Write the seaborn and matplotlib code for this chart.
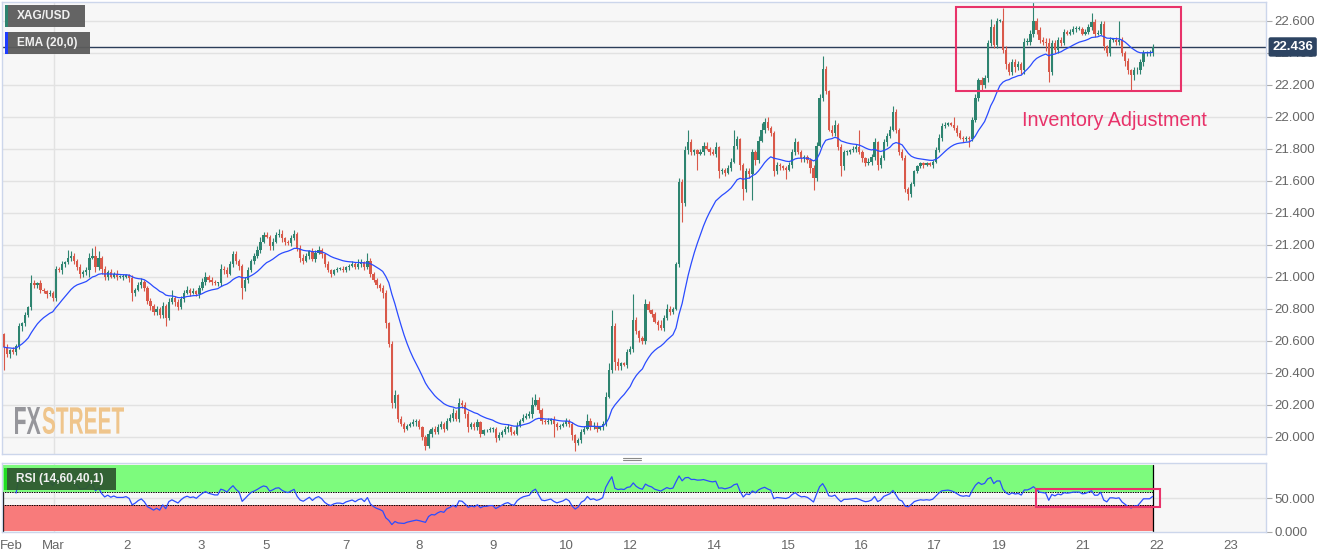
import numpy as np
import pandas as pd
import matplotlib
matplotlib.use("Agg")
import matplotlib.pyplot as plt
import seaborn as sns
from matplotlib.patches import Rectangle, PathPatch
from matplotlib.lines import Line2D
from matplotlib.textpath import TextPath
from matplotlib.font_manager import FontProperties
from matplotlib.transforms import Affine2D

# XAG/USD hourly closes
close = [
    20.56, 20.52, 20.54, 20.53, 20.57, 20.69, 20.71, 20.76, 20.81, 20.96, 20.95, 20.96, 20.92, 20.91, 20.89, 20.90, 20.87, 21.05, 21.04, 21.08,
    21.09, 21.12, 21.13, 21.10, 21.06, 21.02, 21.03, 21.04, 21.12, 21.13, 21.06, 21.12, 21.05, 21.00, 21.03, 21.00, 21.02, 21.00, 21.00, 21.00,
    21.01, 20.99, 20.90, 20.92, 20.95, 20.97, 20.93, 20.85, 20.82, 20.78, 20.80, 20.76, 20.82, 20.74, 20.84, 20.87, 20.84, 20.81, 20.86, 20.90,
    20.92, 20.90, 20.91, 20.89, 20.93, 20.97, 21.00, 20.98, 20.97, 20.96, 20.96, 21.05, 21.04, 21.02, 21.08, 21.14, 21.10, 21.07, 20.93, 20.98,
    21.04, 21.10, 21.13, 21.17, 21.22, 21.26, 21.25, 21.19, 21.22, 21.26, 21.27, 21.24, 21.22, 21.21, 21.24, 21.27, 21.18, 21.12, 21.10, 21.13,
    21.16, 21.11, 21.15, 21.17, 21.14, 21.08, 21.04, 21.02, 21.04, 21.05, 21.05, 21.04, 21.06, 21.07, 21.08, 21.06, 21.08, 21.09, 21.06, 21.10,
    21.02, 20.98, 20.95, 20.93, 20.90, 20.71, 20.58, 20.21, 20.26, 20.11, 20.08, 20.05, 20.07, 20.08, 20.09, 20.10, 20.06, 20.00, 19.94, 20.02,
    20.05, 20.03, 20.06, 20.08, 20.05, 20.10, 20.12, 20.15, 20.11, 20.21, 20.20, 20.14, 20.06, 20.08, 20.06, 20.09, 20.02, 20.04, 20.04, 20.05,
    20.05, 19.99, 20.01, 20.03, 20.05, 20.06, 20.03, 20.02, 20.07, 20.10, 20.12, 20.13, 20.14, 20.20, 20.23, 20.17, 20.10, 20.09, 20.10, 20.11,
    20.08, 20.06, 20.07, 20.08, 20.10, 20.08, 20.01, 19.96, 19.98, 20.03, 20.05, 20.10, 20.06, 20.07, 20.05, 20.06, 20.08, 20.25, 20.42, 20.69,
    20.47, 20.44, 20.46, 20.45, 20.53, 20.55, 20.73, 20.66, 20.62, 20.60, 20.83, 20.79, 20.77, 20.72, 20.70, 20.68, 20.74, 20.80, 20.78, 20.80,
    21.08, 21.59, 21.46, 21.79, 21.84, 21.78, 21.79, 21.77, 21.78, 21.82, 21.80, 21.78, 21.77, 21.81, 21.66, 21.67, 21.65, 21.68, 21.72, 21.82,
    21.86, 21.70, 21.55, 21.66, 21.64, 21.78, 21.73, 21.85, 21.92, 21.97, 21.93, 21.90, 21.66, 21.70, 21.69, 21.68, 21.67, 21.70, 21.78, 21.84,
    21.78, 21.74, 21.75, 21.73, 21.68, 21.62, 21.82, 22.12, 22.30, 22.16, 21.92, 21.90, 21.95, 21.81, 21.69, 21.78, 21.78, 21.79, 21.80, 21.81,
    21.78, 21.74, 21.71, 21.72, 21.75, 21.84, 21.70, 21.74, 21.84, 21.88, 21.92, 22.03, 21.92, 21.78, 21.74, 21.55, 21.52, 21.58, 21.66, 21.69,
    21.71, 21.70, 21.71, 21.70, 21.72, 21.79, 21.87, 21.94, 21.95, 21.96, 21.95, 21.93, 21.90, 21.87, 21.86, 21.87, 21.86, 21.98, 22.12, 22.23,
    22.20, 22.24, 22.46, 22.56, 22.45, 22.60, 22.60, 22.42, 22.33, 22.28, 22.34, 22.31, 22.33, 22.29, 22.47, 22.47, 22.52, 22.60, 22.54, 22.48,
    22.47, 22.46, 22.28, 22.46, 22.42, 22.48, 22.46, 22.53, 22.52, 22.53, 22.55, 22.55, 22.55, 22.52, 22.53, 22.56, 22.59, 22.52, 22.52, 22.58,
    22.44, 22.40, 22.48, 22.48, 22.47, 22.48, 22.40, 22.35, 22.29, 22.26, 22.29, 22.29, 22.34, 22.40, 22.40, 22.40, 22.436,
]
first_open = 20.64

# wick lengths above / below the body, in cents
upper_wick = [
    1, 2, 1, 2, 1, 2, 1, 2, 1, 5, 2, 1, 2, 1, 1, 2, 1, 2, 1, 2,
    1, 5, 3, 2, 1, 2, 1, 2, 3, 5, 6, 4, 1, 2, 1, 2, 1, 2, 1, 2,
    1, 1, 2, 1, 2, 2, 1, 1, 2, 1, 2, 1, 2, 1, 3, 5, 1, 2, 2, 2,
    2, 1, 2, 1, 2, 2, 3, 1, 2, 1, 1, 3, 2, 2, 2, 2, 2, 1, 1, 2,
    2, 1, 2, 2, 3, 2, 2, 1, 2, 2, 3, 2, 1, 1, 2, 2, 1, 2, 2, 2,
    1, 2, 2, 2, 1, 1, 2, 1, 1, 1, 1, 2, 1, 1, 2, 1, 3, 2, 1, 5,
    2, 1, 1, 1, 2, 2, 1, 2, 3, 1, 2, 1, 1, 1, 2, 1, 1, 1, 1, 2,
    1, 2, 2, 2, 1, 2, 2, 3, 2, 3, 2, 2, 2, 1, 1, 2, 1, 1, 1, 1,
    1, 1, 2, 1, 2, 2, 1, 1, 2, 1, 2, 2, 2, 5, 4, 2, 1, 1, 2, 1,
    2, 1, 1, 1, 2, 1, 1, 1, 1, 2, 2, 4, 2, 2, 2, 1, 2, 3, 4, 10,
    2, 2, 1, 1, 2, 2, 16, 2, 1, 1, 3, 2, 1, 1, 1, 3, 2, 3, 2, 1,
    1, 3, 2, 3, 8, 2, 1, 1, 2, 2, 2, 1, 2, 3, 1, 1, 1, 2, 2, 10,
    2, 1, 1, 2, 2, 2, 1, 3, 4, 2, 3, 1, 1, 2, 1, 1, 1, 2, 2, 3,
    1, 1, 1, 1, 1, 2, 2, 2, 8, 2, 1, 3, 3, 1, 2, 1, 1, 1, 2, 2,
    11, 1, 1, 2, 2, 3, 1, 2, 2, 2, 2, 4, 2, 1, 2, 2, 1, 1, 1, 1,
    1, 1, 1, 1, 1, 2, 2, 2, 2, 1, 1, 5, 2, 2, 1, 1, 1, 2, 2, 1,
    2, 2, 2, 5, 2, 2, 1, 8, 2, 1, 2, 2, 2, 1, 2, 2, 2, 12, 2, 2,
    2, 2, 3, 2, 2, 2, 2, 2, 1, 2, 2, 2, 2, 1, 2, 2, 6, 2, 2, 2,
    2, 1, 2, 1, 2, 12, 2, 1, 2, 1, 2, 2, 2, 2, 1, 2, 2,
]
lower_wick = [
    14, 2, 3, 1, 2, 2, 3, 2, 1, 2, 2, 2, 2, 1, 2, 1, 2, 2, 1, 2,
    2, 1, 2, 2, 2, 3, 2, 2, 4, 1, 3, 2, 3, 2, 2, 1, 1, 2, 1, 2,
    1, 2, 5, 2, 1, 2, 2, 2, 3, 2, 2, 2, 2, 5, 1, 1, 2, 2, 1, 2,
    1, 2, 1, 1, 2, 1, 2, 1, 2, 1, 2, 2, 2, 2, 1, 2, 2, 3, 7, 2,
    2, 1, 2, 1, 2, 1, 1, 2, 2, 1, 1, 2, 2, 1, 2, 1, 2, 3, 2, 1,
    2, 1, 2, 1, 2, 2, 1, 2, 1, 1, 1, 1, 1, 2, 1, 1, 1, 2, 2, 1,
    2, 1, 2, 2, 3, 3, 2, 3, 3, 2, 1, 2, 1, 1, 1, 2, 1, 2, 2, 1,
    2, 1, 1, 1, 2, 1, 1, 2, 1, 2, 2, 2, 3, 1, 2, 2, 2, 1, 1, 1,
    2, 2, 1, 1, 1, 2, 2, 1, 1, 1, 1, 1, 1, 2, 1, 2, 2, 1, 1, 2,
    8, 2, 1, 1, 1, 2, 3, 5, 1, 2, 1, 1, 2, 1, 2, 1, 2, 1, 1, 2,
    5, 2, 2, 1, 2, 1, 2, 2, 3, 2, 2, 1, 2, 1, 3, 1, 2, 1, 2, 1,
    1, 2, 12, 2, 2, 2, 2, 10, 1, 2, 1, 2, 1, 2, 4, 2, 2, 1, 2, 1,
    2, 3, 7, 2, 2, 16, 3, 2, 1, 2, 1, 2, 3, 2, 2, 1, 6, 1, 2, 2,
    1, 2, 2, 2, 3, 8, 2, 1, 2, 2, 1, 2, 2, 2, 6, 2, 2, 1, 1, 2,
    1, 2, 2, 1, 2, 2, 3, 2, 1, 2, 1, 1, 2, 2, 1, 2, 4, 2, 1, 1,
    1, 2, 1, 1, 2, 1, 1, 2, 1, 1, 1, 1, 2, 1, 2, 1, 5, 1, 1, 2,
    3, 2, 2, 2, 2, 2, 1, 2, 3, 2, 2, 3, 2, 2, 2, 2, 2, 2, 2, 2,
    2, 5, 6, 2, 2, 2, 2, 1, 1, 1, 1, 2, 1, 1, 1, 1, 2, 2, 1, 1,
    2, 2, 2, 1, 2, 2, 2, 3, 2, 9, 3, 2, 2, 2, 2, 2, 2,
]
assert len(close) == len(upper_wick) == len(lower_wick)

day_ticks = [2.45, 16.3, 40.3, 64.7, 85.7, 111.9, 135.8, 160.0, 184.1, 205.2,
             232.5, 256.7, 280.7, 304.7, 325.9, 353.0, 377.3, 401.4]
day_labels = ['Feb', 'Mar', '2', '3', '5', '7', '8', '9', '10', '12',
              '14', '15', '16', '17', '19', '21', '22', '23']
price_ticks = [20.0, 20.2, 20.4, 20.6, 20.8, 21.0, 21.2, 21.4, 21.6, 21.8, 22.0, 22.2, 22.4, 22.6]
rsi_ticks = [0, 50]
last_price = 22.436

# build the OHLC frame
df = pd.DataFrame({'close': close})
df['idx'] = np.arange(len(df))
df['open'] = df['close'].shift(1).fillna(first_open)
df['high'] = df[['open', 'close']].max(axis=1) + np.array(upper_wick) / 100
df['low'] = df[['open', 'close']].min(axis=1) - np.array(lower_wick) / 100
df['ema'] = df['close'].ewm(span=20, adjust=False).mean()

delta = df['close'].diff()
gain = delta.clip(lower=0).ewm(alpha=1 / 14, adjust=True, min_periods=4).mean()
loss = (-delta.clip(upper=0)).ewm(alpha=1 / 14, adjust=True, min_periods=4).mean()
df['rsi'] = 100 - 100 / (1 + gain / loss)

sns.set_style("white")
plt.rcParams['font.family'] = ['Liberation Sans', 'DejaVu Sans']

W, H = 1331, 558
fig = plt.figure(figsize=(W / 100, H / 100), dpi=100)
ax = fig.add_axes([2 / W, 1 - 454 / H, 1264 / W, 452 / H])
ax2 = fig.add_axes([2 / W, 1 - 531.5 / H, 1264 / W, 68.2 / H])

spine_col = '#ccd6eb'
grid_col = '#e2e2e2'
green = '#2e8470'
red = '#d9594a'
pink = '#e8336a'
xmin, xmax = -0.6, 413.1
last_x = df['idx'].iloc[-1] + 0.2

for a in (ax, ax2):
    a.set_facecolor('#f7f7f7')
    for s in a.spines.values():
        s.set_color(spine_col)
        s.set_linewidth(1)
    a.set_xlim(xmin, xmax)

# ---- price panel ----
for p in price_ticks:
    ax.axhline(p, color=grid_col, lw=1, zorder=0)
ax.axvline(day_ticks[1], color=grid_col, lw=1, zorder=0)
ax.axhline(last_price, color='#2c3e5a', lw=1, zorder=1)

up = df['close'] >= df['open']
cols = np.where(up, green, red)
ax.vlines(df['idx'], df['low'], df['high'], colors=cols, lw=0.8, zorder=2)
body = (df['close'] - df['open']).abs().clip(lower=0.004)
ax.bar(df['idx'], body, bottom=df[['open', 'close']].min(axis=1), width=0.74,
       color=cols, linewidth=0, zorder=3)

sns.lineplot(data=df, x='idx', y='ema', ax=ax, color='#2a4bff', lw=0.9, legend=False, zorder=4)

ax.set_ylim(19.892, 22.717)
ax.yaxis.tick_right()
ax.set_yticks(price_ticks)
ax.set_yticklabels([f'{p:.3f}' for p in price_ticks])
ax.tick_params(axis='y', length=4, color='#aaaaaa', labelcolor='#666666', labelsize=9.5, pad=2)
ax.set_xticks([])
ax.set_xlabel('')
ax.set_ylabel('')

ax.annotate(f'{last_price:.3f}', xy=(1, last_price), xycoords=('axes fraction', 'data'),
            xytext=(4.5, 0), textcoords='offset points', ha='left', va='center',
            color='white', fontsize=9.5, fontweight='bold', annotation_clip=False,
            bbox=dict(boxstyle='round,pad=0.28,rounding_size=0.15', fc='#2d4462', ec='none'), zorder=10)

ax.add_patch(Rectangle((311.8, 22.1625), 73.5, 0.525, fill=False, ec=pink, lw=1.5, zorder=6))
ax.text(363.6, 21.979, 'Inventory Adjustment', color=pink, fontsize=14.2, ha='center', va='center', zorder=6)

# ---- RSI panel ----
ax2.axhline(50, color=grid_col, lw=1, zorder=0)
ax2.axvline(day_ticks[1], color=grid_col, lw=1, zorder=0)
ax2.fill_between([xmin, last_x], 60, 100, color='#7dfb7d', lw=0, zorder=1)
ax2.fill_between([xmin, last_x], 0, 40, color='#f87b7b', lw=0, zorder=1)
ax2.plot([xmin, last_x], [60, 60], color='black', lw=0.7, ls=(0, (1.5, 1)), zorder=2)
ax2.plot([xmin, last_x], [40, 40], color='black', lw=0.7, ls=(0, (1.5, 1)), zorder=2)
ax2.plot([last_x, last_x], [0, 100], color='black', lw=0.9, zorder=2)
ax2.plot([-0.3, -0.3], [0, 60], color='black', lw=0.9, zorder=2)
sns.lineplot(data=df, x='idx', y='rsi', ax=ax2, color='#2b4cff', lw=0.9, legend=False, zorder=3)
ax2.add_patch(Rectangle((337.9, 36.6), 40.5, 27.9, fill=False, ec=pink, lw=1.5, zorder=6))

ax2.set_ylim(0, 103)
ax2.yaxis.tick_right()
ax2.set_yticks(rsi_ticks)
ax2.set_yticklabels([f'{v:.3f}' for v in rsi_ticks])
ax2.set_xticks(day_ticks)
ax2.set_xticklabels(day_labels)
ax2.tick_params(axis='y', length=4, color='#aaaaaa', labelcolor='#666666', labelsize=9.5, pad=2)
ax2.tick_params(axis='x', length=3, color='#aaaaaa', labelcolor='#666666', labelsize=9.5, pad=3)
ax2.set_xlabel('')
ax2.set_ylabel('')


# ---- overlay labels (pixel coords from top-left) ----
def px_rect(x0, y0, x1, y1, color, alpha=1.0):
    fig.add_artist(Rectangle((x0 / W, 1 - y1 / H), (x1 - x0) / W, (y1 - y0) / H,
                             transform=fig.transFigure, fc=color, ec='none', alpha=alpha, zorder=20))


def tag(x0, y0, x1, y1, fill, stripe, label):
    px_rect(x0, y0, x1, y1, fill, 0.95)
    px_rect(x0, y0, x0 + 3, y1, stripe)
    fig.text((x0 + 12) / W, 1 - (y0 + y1) / 2 / H, label, color='#f0f0f0', fontsize=8.6,
             fontweight='bold', va='center', ha='left', zorder=21)


tag(5, 5, 85, 27, '#5c5c5c', '#2e8470', 'XAG/USD')
tag(5, 32, 90, 54, '#5c5c5c', '#1f3dff', 'EMA (20,0)')
tag(4, 468, 116, 490, '#2f5a30', '#22dd22', 'RSI (14,60,40,1)')


def logo_word(txt, x0, x1, y0, y1, color):
    fp = FontProperties(family=['Liberation Sans Narrow', 'Liberation Sans'], weight='bold')
    tp = TextPath((0, 0), txt, size=20, prop=fp)
    bb = tp.get_extents()
    tr = (Affine2D().translate(-bb.x0, -bb.y0)
          .scale((x1 - x0) / bb.width, (y1 - y0) / bb.height)
          .translate(x0, H - y1).scale(1 / W, 1 / H))
    fig.add_artist(PathPatch(tr.transform_path(tp), fc=color, ec='none',
                             transform=fig.transFigure, zorder=5))


logo_word('FX', 15, 40.5, 407, 434, '#96969b')
logo_word('STREET', 42.5, 124, 407, 434, '#efc58c')

# drag handle between the panels
for yy in (457.5, 459.8):
    fig.add_artist(Line2D([623 / W, 641 / W], [1 - yy / H, 1 - yy / H], color='#8a8a8a',
                          lw=0.8, transform=fig.transFigure))

fig.savefig('out.png', dpi=100, facecolor='white')
